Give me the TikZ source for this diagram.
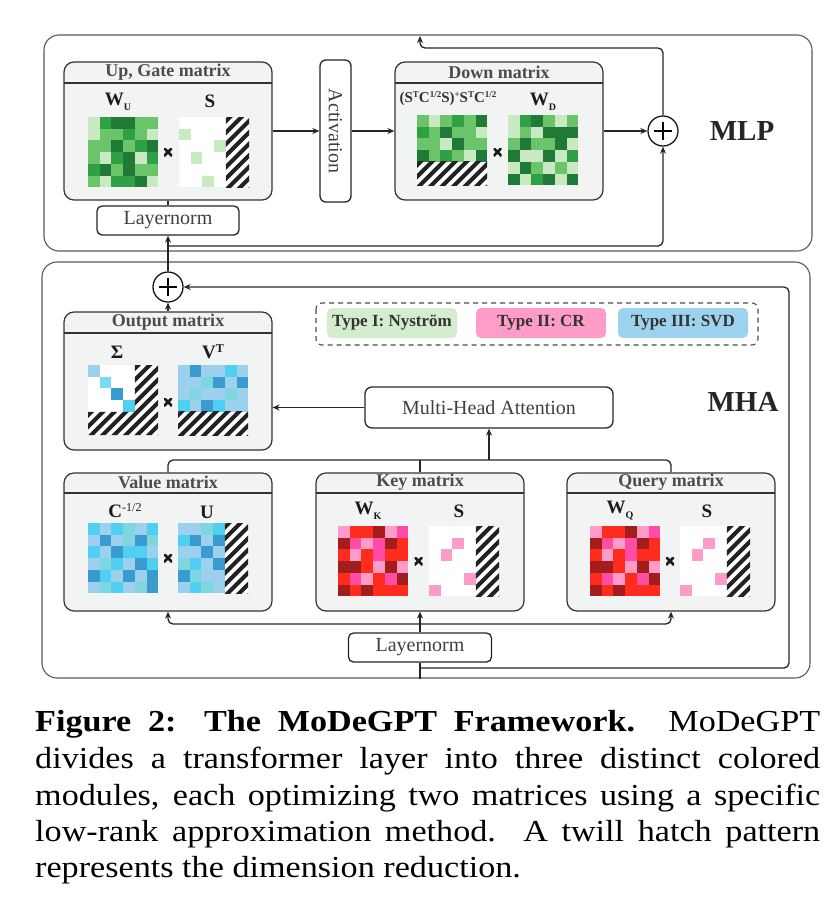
\documentclass[tikz,border=0pt]{standalone}
\usepackage{fontspec}
\setmainfont{Liberation Serif}
\newfontfamily\capfont[FakeStretch=1.12]{Liberation Serif}
\usetikzlibrary{arrows.meta}
\definecolor{boxgray}{HTML}{F2F3F3}
\definecolor{w}{HTML}{FFFFFF}
\definecolor{gL}{HTML}{C9E9C3}
\definecolor{gM}{HTML}{6CC46A}
\definecolor{gD}{HTML}{2FA043}
\definecolor{gV}{HTML}{207A35}
\definecolor{bA}{HTML}{9DD0EC}
\definecolor{bC}{HTML}{4FCFF2}
\definecolor{bT}{HTML}{7FD6DF}
\definecolor{bB}{HTML}{3A9BD1}
\definecolor{rP}{HTML}{FF9BC9}
\definecolor{rH}{HTML}{FF4DA6}
\definecolor{rR}{HTML}{FF2B1C}
\definecolor{rD}{HTML}{A31D1D}
\definecolor{legG}{HTML}{D3EDCE}
\definecolor{legP}{HTML}{FF9CC8}
\definecolor{legB}{HTML}{9ED3F0}
\definecolor{hatchc}{HTML}{222222}
\newcommand\grid[4]{%
  \foreach \cl [count=\i from 0] in {#4} {
    \pgfmathtruncatemacro\rr{div(\i,#3)}
    \pgfmathtruncatemacro\cc{mod(\i,#3)}
    \fill[\cl] (#1+\cc*11.7, #2+\rr*11.7) rectangle ++(11.75,11.75);
  }}
\newcommand\hatch[4]{%
  \begin{scope}
    \clip (#1,#2) rectangle (#3,#4);
    \fill[white] (#1,#2) rectangle (#3,#4);
    \foreach \s in {-92,-80.5,...,92} \draw[hatchc, line width=4pt] (#1+\s,#4+3) -- ++(100,-100);
  \end{scope}}
\newcommand\sps[1]{\raisebox{5pt}{\fontsize{9}{9}\selectfont #1}}
\newcommand\spb[1]{\raisebox{6pt}{\fontsize{12}{12}\selectfont #1}}
\tikzset{
  outerbox/.style={draw=black!65, line width=1.1pt, rounded corners=15pt, inner sep=0pt},
  matbox/.style={draw=black!80, fill=boxgray, line width=1.2pt, rounded corners=10pt, inner sep=0pt},
  lnbox/.style={draw=black!85, fill=white, line width=1.3pt, rounded corners=5pt, inner sep=0pt, font=\fontsize{20}{22}\selectfont, text=black!75},
  conn/.style={draw=black!85, line width=1.3pt, rounded corners=5pt},
  arr/.style={conn, -{Stealth[length=7pt,width=6pt]}},
  plusc/.style={circle, draw=black!90, line width=1.3pt, minimum size=30pt, inner sep=0pt, fill=white},
  head/.style={font=\fontsize{18}{20}\selectfont\bfseries, text=black!70},
  lab/.style={font=\fontsize{19}{21}\selectfont\bfseries, text=black!90},
  xmark/.style={minimum size=8pt, inner sep=0pt, path picture={
      \draw[black!90, line width=2.6pt] (path picture bounding box.north west) -- (path picture bounding box.south east);
      \draw[black!90, line width=2.6pt] (path picture bounding box.south west) -- (path picture bounding box.north east);}},
  legitem/.style={rounded corners=5pt, minimum width=130pt, minimum height=30pt, inner sep=0pt, font=\fontsize{17}{19}\selectfont\bfseries, text=black!80},
  bigl/.style={font=\fontsize{29}{32}\selectfont\bfseries, text=black!85},
  capline/.style={anchor=base west, inner sep=0pt, font=\capfont\fontsize{30.5}{36}\selectfont, text=black},
}
\begin{document}
\begin{tikzpicture}[x=1pt,y=-1pt]
\useasboundingbox (0,0) rectangle (833,905);
\fill[white] (0,0) rectangle (833,905);

% outer boxes
\node[outerbox, minimum width=768pt, minimum height=216pt] (mlpbox) at (428,143) {};
\node[outerbox, minimum width=768pt, minimum height=416pt] (mhabox) at (426,470) {};

% ---------------- MLP ----------------
\node[matbox, minimum width=208pt, minimum height=138pt] (ug) at (168,131) {};
\draw[black!80, line width=1.2pt] (64,83) -- (272,83);
\node[head] (ugh) at (168,72) {Up, Gate matrix};
\node[lab] (wu) at (118,102) {W\raisebox{-5pt}{\fontsize{10}{10}\selectfont U}};
\node[lab] (s1) at (210,101) {S};
\grid{88}{117}{6}{gL,gD,gV,gV,gM,gM, gL,gM,gM,gD,gM,gL, gM,gM,gV,gM,gD,gV, gM,gL,gD,gV,gL,gD, gD,gV,gM,gV,gM,gM, gM,gL,gD,gD,gV,gL}
\grid{179}{117}{4}{w,w,w,w, gL,w,w,w, w,w,w,gL, w,gL,w,w, w,w,w,w, w,w,gL,w}
\hatch{225.8}{117}{249.2}{187.2}
\node[xmark] (x1) at (168,152) {};

\node[draw=black!85, fill=white, line width=1.3pt, rounded corners=6pt, minimum width=31pt, minimum height=142pt, inner sep=0pt] (act) at (335.5,131) {};
\node[rotate=-90, font=\fontsize{20}{22}\selectfont, text=black!75] (actt) at (335.5,131) {Activation};

\node[matbox, minimum width=208pt, minimum height=138pt] (down) at (499,131) {};
\draw[black!80, line width=1.2pt] (395,83) -- (603,83);
\node[head] (dh) at (499,72) {Down matrix};
\node[font=\fontsize{15}{17}\selectfont\bfseries, text=black!80] (dl) at (448,99) {(S\sps{T}C\sps{1/2}S)\sps{+}S\sps{T}C\sps{1/2}};
\node[lab] (wd) at (543,102) {W\raisebox{-5pt}{\fontsize{10}{10}\selectfont D}};
\grid{417}{115}{6}{gM,gL,gM,gD,gM,gV, gD,gM,gV,gM,gM,gL, gM,gM,gL,gV,gM,gM, gV,gM,gD,gM,gL,gV}
\hatch{417}{161.8}{487.2}{185.2}
\grid{508}{115}{6}{gL,gD,gV,gM,gL,gM, gL,gM,gL,gV,gV,gV, gM,gV,gM,gM,gV,gL, gV,gL,gL,gV,gL,gD, gL,gV,gM,gL,gM,gL, gV,gL,gD,gV,gL,gV}
\node[xmark] (x2) at (497.5,152) {};

\node[plusc] (plus1) at (663,131) {};
\draw[line width=1.3pt] (plus1.center) ++(-9,0) -- ++(18,0);
\draw[line width=1.3pt] (plus1.center) ++(0,-9) -- ++(0,18);
\node[bigl] (mlpl) at (742,131) {MLP};

\node[lnbox, minimum width=142pt, minimum height=29pt] (ln1) at (168,220.5) {Layernorm};

\coordinate (mlpout) at (420,36);
\coordinate (j1) at (168,246);

\draw[arr] (ug.east) -- (act.west);
\draw[arr] (act.east) -- (down.west);
\draw[arr] (down.east) -- (plus1.west);
\draw[arr] (plus1.north) |- (mlpout |- 0,48) -- (mlpout);
\draw[arr] (j1) -| (plus1.south);
\draw[conn] (ln1.north) -- (ug.south);

% ---------------- MHA ----------------
\node[plusc] (plus2) at (168,287) {};
\draw[line width=1.3pt] (plus2.center) ++(-9,0) -- ++(18,0);
\draw[line width=1.3pt] (plus2.center) ++(0,-9) -- ++(0,18);
\draw[arr] (plus2.north) -- (ln1.south);

\node[matbox, minimum width=208pt, minimum height=138pt] (out) at (168,381) {};
\draw[black!80, line width=1.2pt] (64,333) -- (272,333);
\node[head] (outh) at (168,322) {Output matrix};
\node[lab] (sig) at (117,352) {Σ};
\node[lab] (vt) at (213,352) {V\spb{T}};
\fill[white] (88,365) rectangle (158.2,435.2);
\fill[bA] (88,365) rectangle ++(11.7,11.7);
\fill[bC!75!white] (99.7,376.7) rectangle ++(11.7,11.7);
\fill[bB] (111.4,388.4) rectangle ++(11.7,11.7);
\fill[bC] (123.1,400.1) rectangle ++(11.7,11.7);
\begin{scope}
  \clip (134.8,365) -- (158.2,365) -- (158.2,435.2) -- (88,435.2) -- (88,411.8) -- (134.8,411.8) -- cycle;
  \foreach \s in {-92,-80.5,...,92} \draw[hatchc, line width=4pt] (88+\s,438.2) -- ++(100,-100);
\end{scope}
\grid{178}{365}{6}{bA,bB,bA,bA,bC,bA, bA,bA,bT,bB,bA,bB, bA,bT,bA,bA,bT,bA, bC,bA,bB,bC,bA,bA}
\hatch{178}{411.8}{248.2}{435.2}
\node[xmark] (x3) at (168,402) {};
\draw[arr] (out.north) -- (plus2.south);

% legend
\draw[dashed, dash pattern=on 5pt off 4pt, black!70, line width=1.1pt, rounded corners=6pt] (316,303) rectangle (758,345);
\node[legitem, fill=legG] (t1) at (392,323) {Type I: Nyström};
\node[legitem, fill=legP] (t2) at (541,323) {Type II: CR};
\node[legitem, fill=legB] (t3) at (683,323) {Type III: SVD};

\node[draw=black!85, fill=white, line width=1.3pt, rounded corners=7pt, minimum width=248pt, minimum height=41pt, inner sep=0pt, font=\fontsize{20}{22}\selectfont, text=black!75] (mha) at (489,407.5) {Multi-Head Attention};
\node[bigl] (mhal) at (743,402) {MHA};
\draw[arr] (mha.west) -- (mha.west -| out.east);

% value
\node[matbox, minimum width=208pt, minimum height=138pt] (val) at (168,542) {};
\draw[black!80, line width=1.2pt] (64,493) -- (272,493);
\node[head] (valh) at (168,482) {Value matrix};
\node[lab] (cl) at (125,511) {C\spb{\normalfont -1/2}};
\node[lab] (ul) at (207,512) {U};
\grid{88}{523}{6}{bC,bA,bC,bT,bA,bC, bA,bB,bA,bT,bB,bT, bC,bA,bB,bC,bC,bA, bA,bT,bC,bA,bB,bC, bB,bC,bA,bB,bA,bB, bA,bT,bC,bA,bT,bB}
\grid{178}{523}{4}{bA,bA,bT,bC, bC,bB,bA,bB, bA,bA,bB,bA, bT,bC,bA,bB, bB,bT,bA,bA, bA,bC,bT,bA}
\hatch{224.8}{523}{248.2}{593.2}
\node[xmark] (x4) at (168,558) {};

% key
\node[matbox, minimum width=208pt, minimum height=138pt] (key) at (420,542) {};
\draw[black!80, line width=1.2pt] (316,493) -- (524,493);
\node[head] (keyh) at (420,482) {Key matrix};
\node[lab] (wk) at (368,511) {W\raisebox{-5pt}{\fontsize{10}{10}\selectfont K}};
\node[lab] (sk) at (459,511) {S};
\grid{338}{526}{6}{rP,rR,rR,rD,rP,rH, rD,rH,rP,rH,rD,rR, rR,rP,rR,rH,rR,rR, rD,rD,rR,rP,rD,rP, rR,rH,rP,rR,rH,rD, rD,rR,rD,rR,rR,rR}
\grid{429}{526}{4}{w,w,w,w, w,w,rP,w, w,rP,w,w, w,w,w,w, w,w,w,rP, rP,w,w,w}
\hatch{475.8}{526}{499.2}{596.2}
\node[xmark] (x5) at (418.5,561) {};

% query
\node[matbox, minimum width=208pt, minimum height=138pt] (qry) at (671,542) {};
\draw[black!80, line width=1.2pt] (567,493) -- (775,493);
\node[head] (qryh) at (671,482) {Query matrix};
\node[lab] (wq) at (620,511) {W\raisebox{-5pt}{\fontsize{10}{10}\selectfont Q}};
\node[lab] (sq) at (707,511) {S};
\grid{590}{526}{6}{rP,rR,rR,rD,rP,rH, rD,rH,rP,rH,rD,rR, rR,rP,rR,rH,rR,rR, rD,rD,rR,rP,rD,rP, rR,rH,rP,rR,rH,rD, rD,rR,rD,rR,rR,rR}
\grid{680}{526}{4}{w,w,w,w, w,w,rP,w, w,rP,w,w, w,w,w,w, w,w,w,rP, rP,w,w,w}
\hatch{726.8}{526}{750.2}{596.2}
\node[xmark] (x6) at (670,561) {};

\node[lnbox, minimum width=143pt, minimum height=29pt] (ln2) at (420,647.5) {Layernorm};

\coordinate (j2) at (420,668);
\coordinate (j3) at (420,624);
\coordinate (r2) at (789,287);
\coordinate (top) at (420,460);

\draw[conn] (ln2.south |- mhabox.south) -- (ln2.south);
\draw[arr] (j2) -| (r2) -- (plus2.east);
\draw[arr] (ln2.north) -- (key.south);
\draw[arr] (j3) -| (val.south);
\draw[arr] (j3) -| (qry.south);
\draw[conn] (val.north) |- (top) -| (qry.north);
\draw[conn] (key.north) -- (top);
\draw[arr] (mha.south |- top) -- (mha.south);

% caption
\node[capline] (c1) at (35,731) {\makebox[785pt][s]{\bfseries Figure 2: The MoDeGPT Framework.\mdseries\ \ MoDeGPT}};
\node[capline] (c2) at (35,768) {\makebox[785pt][s]{divides a transformer layer into three distinct colored}};
\node[capline] (c3) at (35,805) {\makebox[785pt][s]{modules, each optimizing two matrices using a specific}};
\node[capline] (c4) at (35,841) {\makebox[785pt][s]{low-rank approximation method.\ \ A twill hatch pattern}};
\node[capline] (c5) at (35,877) {represents the dimension reduction.};
\end{tikzpicture}
\end{document}
